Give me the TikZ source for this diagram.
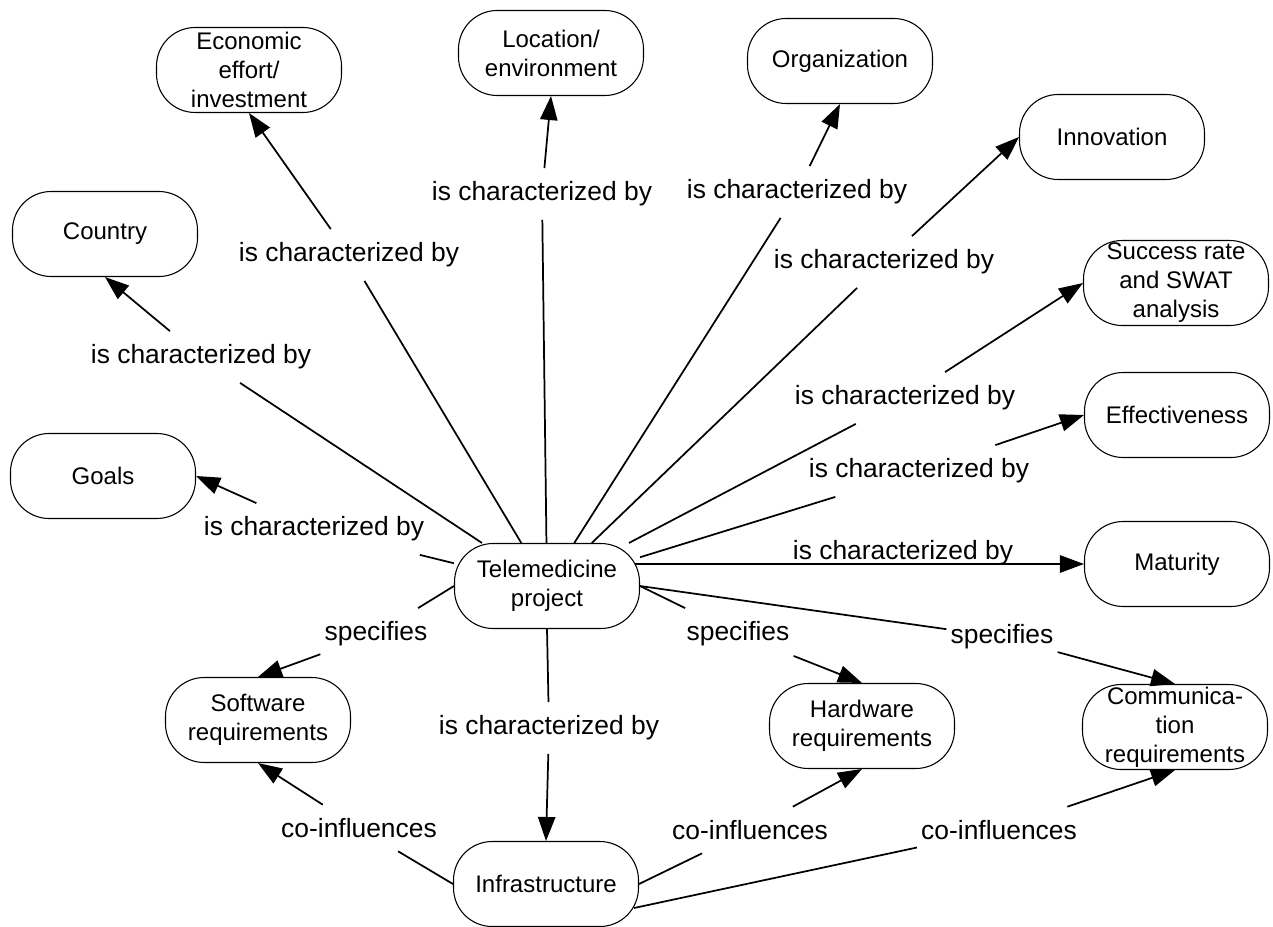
\documentclass[tikz,border=0pt]{standalone}
\usepackage{fontspec}
\setmainfont{Liberation Sans}
\usepackage{tikz}
\usetikzlibrary{arrows.meta,calc,positioning}
\tikzstyle{concept}=[draw=black, line width=0.8pt, rounded corners=29pt, minimum width=138.75pt, minimum height=63.75pt, inner sep=0pt, align=center, font=\fontsize{18}{21.75}\selectfont]
\tikzstyle{linking phrase}=[inner xsep=3pt, inner ysep=10pt, font=\fontsize{19.8}{23}\selectfont]
\tikzstyle{cmapline}=[line width=1.3pt, black]
\tikzstyle{cmaparrow}=[cmapline, -{Triangle[length=18pt,width=13pt]}]

\begin{document}
\begin{tikzpicture}[x=0.75pt,y=-0.75pt]
\useasboundingbox (0,0) rectangle (1273,927);

    % concepts
    \node[concept] (tele) at (547,586) {Telemedicine\\project};
    \node[concept] (econ) at (249,70) {Economic\\effort/\\investment};
    \node[concept] (loc) at (551,53) {Location/\\environment};
    \node[concept] (org) at (840,61) {Organization};
    \node[concept] (innov) at (1112,137) {Innovation};
    \node[concept] (succ) at (1176,283) {Success rate\\and SWAT\\analysis};
    \node[concept] (effect) at (1177,415) {Effectiveness};
    \node[concept] (mat) at (1177,564) {Maturity};
    \node[concept] (country) at (105,234) {Country};
    \node[concept] (goals) at (103,476) {Goals};
    \node[concept] (soft) at (258,720) {Software\\requirements};
    \node[concept] (hard) at (862,726) {Hardware\\requirements};
    \node[concept] (comm) at (1175,727) {Communica-\\tion\\requirements};
    \node[concept] (infra) at (546,884) {Infrastructure};

    % linking phrases
    \foreach \name/\x/\y in {econ/349/255, loc/542/194, org/797/192, innov/884/262, succ/905/398, effect/919/471, country/201/357, goals/314/529, infra/549/728}
        \node[linking phrase] (l-\name) at (\x,\y) {is characterized by};
    \node[linking phrase] (l-mat) at (903,553) {is characterized by};

    \foreach \name/\x/\y in {soft/376/634, hard/738/634, comm/1002/637}
        \node[linking phrase] (s-\name) at (\x,\y) {specifies};

    \foreach \name/\x/\y in {soft/359/828, hard/750/830, comm/999/830}
        \node[linking phrase] (c-\name) at (\x,\y) {co-influences};

    % is characterized by
    \foreach \name in {econ,loc,org,innov,succ,effect,country,goals}
        \draw[cmapline] (tele) -- (l-\name);
    \foreach \name/\port in {econ/south,loc/south,org/south,innov/west,succ/west,effect/west,country/south,goals/east}
        \draw[cmaparrow] (l-\name) -- (\name.\port);

    \draw[cmapline] (tele.south) -- (l-infra);
    \draw[cmaparrow] (l-infra) -- (infra.north);
    \draw[cmaparrow] ($(tele.east |- mat.west)+(-5,0)$) -- (mat.west);

    % specifies
    \draw[cmapline] (tele.west) -- (s-soft);
    \foreach \name in {hard,comm}
        \draw[cmapline] (tele.east) -- (s-\name);
    \foreach \name in {soft,hard,comm}
        \draw[cmaparrow] (s-\name) -- (\name.north);

    % co-influences
    \draw[cmapline] (infra.west) -- (c-soft);
    \draw[cmapline] (infra.east) -- (c-hard);
    \draw[cmapline] ($(infra.east)+(-5,24)$) -- (c-comm);
    \foreach \name in {soft,hard,comm}
        \draw[cmaparrow] (c-\name) -- (\name.south);

\end{tikzpicture}
\end{document}
